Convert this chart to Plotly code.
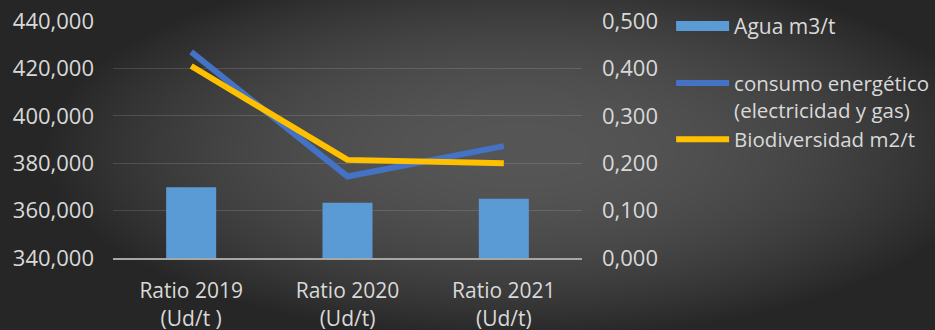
import base64
import struct
import zlib

import numpy as np
import plotly.graph_objects as go

# Data
categories = ["Ratio 2019<br>(Ud/t )", "Ratio 2020<br>(Ud/t)", "Ratio 2021<br>(Ud/t)"]
agua = [369.9, 363.3, 365.0]            # left axis
energia = [0.435, 0.172, 0.236]         # right axis
biodiversidad = [0.405, 0.207, 0.200]   # right axis
left_ticks = [340, 360, 380, 400, 420, 440]
right_ticks = [0.0, 0.1, 0.2, 0.3, 0.4, 0.5]

W, H = 935, 330
ML, MR, MT, MB = 113, 353, 21, 72
PW, PH = W - ML - MR, H - MT - MB

BAR_COLOR = "#5b9bd5"


def radial_background(w, h):
    yy, xx = np.mgrid[0:h, 0:w].astype(float)
    dx = (xx - 520) / 480.0
    dy = (yy - 150) / 190.0
    r2 = np.clip(dx ** 2 + dy ** 2, 0, 1)
    v = (86 - 48 * r2).astype(np.uint8)
    raw = b"".join(b"\x00" + v[i].tobytes() for i in range(h))

    def chunk(tag, data):
        c = struct.pack(">I", len(data)) + tag + data
        return c + struct.pack(">I", zlib.crc32(tag + data) & 0xFFFFFFFF)

    png = b"\x89PNG\r\n\x1a\n"
    png += chunk(b"IHDR", struct.pack(">IIBBBBB", w, h, 8, 0, 0, 0, 0))
    png += chunk(b"IDAT", zlib.compress(raw, 9))
    png += chunk(b"IEND", b"")
    return "data:image/png;base64," + base64.b64encode(png).decode()


FONT = "Open Sans"
TXT = "#d9d9d9"

fig = go.Figure()

fig.add_trace(go.Bar(
    x=categories, y=agua, name="Agua m3/t",
    marker=dict(color=BAR_COLOR, line=dict(width=0)),
    yaxis="y", showlegend=False,
))
# wide swatch for the bar series in the legend
fig.add_trace(go.Scatter(
    x=[None], y=[None], name="Agua m3/t", mode="lines",
    line=dict(color=BAR_COLOR, width=13),
    legend="legend", showlegend=True, hoverinfo="skip",
))
fig.add_trace(go.Scatter(
    x=categories, y=energia, name="consumo energético<br>(electricidad y gas)",
    mode="lines", line=dict(color="#4472c4", width=6),
    legend="legend2", yaxis="y2", showlegend=True,
))
fig.add_trace(go.Scatter(
    x=categories, y=biodiversidad, name="Biodiversidad m2/t",
    mode="lines", line=dict(color="#ffc000", width=6),
    legend="legend2", yaxis="y2", showlegend=True,
))

fig.update_layout(
    template="none",
    width=W, height=H,
    margin=dict(l=ML, r=MR, t=MT, b=MB, pad=0, autoexpand=False),
    paper_bgcolor="#2a2a2a",
    plot_bgcolor="rgba(0,0,0,0)",
    separators=",.",
    font=dict(family=FONT, size=21, color=TXT),
    showlegend=True,
    bargap=0.68,
    xaxis=dict(
        type="category", showgrid=False, showline=True, automargin=False,
        linecolor="#a6a6a6", linewidth=2, ticks="",
        tickfont=dict(size=21, color=TXT), ticklabelstandoff=13,
    ),
    yaxis=dict(
        range=[340, 440], tickvals=left_ticks, tickformat=".3f",
        showgrid=True, gridcolor="rgba(255,255,255,0.13)", gridwidth=1,
        zeroline=False, showline=False, ticks="", automargin=False,
        tickfont=dict(size=22, color=TXT), ticklabelstandoff=18,
    ),
    yaxis2=dict(
        range=[0, 0.5], tickvals=right_ticks, tickformat=".3f",
        overlaying="y", side="right", showgrid=False, zeroline=False,
        showline=False, ticks="", automargin=False,
        tickfont=dict(size=22, color=TXT), ticklabelstandoff=19,
    ),
    legend=dict(
        x=1.19, y=1.064, xanchor="left", yanchor="top",
        bgcolor="rgba(0,0,0,0)", font=dict(size=21, color=TXT),
        itemwidth=53, tracegroupgap=0,
    ),
    legend2=dict(
        x=1.19, y=0.822, xanchor="left", yanchor="top", valign="top",
        bgcolor="rgba(0,0,0,0)", font=dict(size=20.5, color=TXT),
        itemwidth=53, tracegroupgap=0,
    ),
    images=[dict(
        source=radial_background(W, H), xref="paper", yref="paper",
        x=-ML / PW, y=1 + MT / PH, sizex=W / PW, sizey=H / PH,
        xanchor="left", yanchor="top", sizing="stretch", layer="below",
    )],
)

fig.write_html("out.html")
